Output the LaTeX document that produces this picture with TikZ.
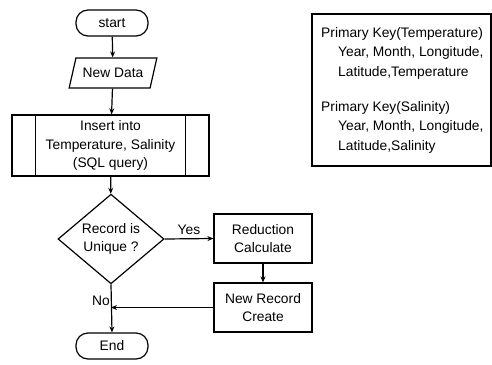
\documentclass[tikz,border=0pt]{standalone}
\usepackage{fontspec}
\setmainfont{Liberation Sans}
\usetikzlibrary{shapes.geometric,arrows.meta}
\begin{document}
\begin{tikzpicture}[x=1pt,y=-1pt,
  every node/.style={font=\fontsize{13.8}{18.5}\selectfont, align=center, inner sep=0pt},
  box/.style={draw, line width=1.2pt},
  term/.style={box, rounded corners=12pt, minimum width=72pt, minimum height=26pt},
  proc/.style={box, minimum width=98pt, minimum height=49pt},
  conn/.style={line width=1.2pt, -{Stealth[length=6pt,width=5pt]}},
  plain/.style={line width=1.2pt}]
\useasboundingbox (0,0) rectangle (492,364);
\node[term] (start) at (112,23) {start};
\node[box, trapezium, trapezium left angle=60, trapezium right angle=120,
      trapezium stretches=true, minimum width=88pt, minimum height=30pt] (data) at (113,73) {New Data};
\node[box, minimum width=197pt, minimum height=61pt] (insert) at (110.5,145.5)
  {Insert into\\Temperature, Salinity\\(SQL query)};
\draw[plain] ([xshift=24pt]insert.north west) -- ([xshift=24pt]insert.south west);
\draw[plain] ([xshift=-24pt]insert.north east) -- ([xshift=-24pt]insert.south east);
\node[box, diamond, minimum width=106pt, minimum height=84pt] (dec) at (111,239) {Record is\\Unique ?};
\node[proc] (red) at (263,238.5) {Reduction\\Calculate};
\node[proc] (rec) at (263,307.5) {New Record\\Create};
\node[term] (end) at (112,346) {End};
\node[box, minimum width=179pt, minimum height=152pt] (key) at (401.5,90) {};
\node[anchor=north west, align=left, font=\fontsize{13.8}{19.5}\selectfont] (keytext) at (321,27)
  {Primary Key(Temperature)\\
   \hspace*{17pt}Year, Month, Longitude,\\
   \hspace*{17pt}Latitude,Temperature\\[15.5pt]
   Primary Key(Salinity)\\
   \hspace*{17pt}Year, Month, Longitude,\\
   \hspace*{17pt}Latitude,Salinity};
\draw[conn] (start) -- (data);
\draw[conn] (data) -- (insert);
\draw[conn] (insert) -- (dec);
\draw[conn] (dec.east) -- node[above=4pt, pos=0.5] (yes) {Yes} (red.west);
\draw[conn] (red) -- (rec);
\draw[conn] (dec.south) -- node[left=1pt, pos=0.35] (no) {No} (end.north);
\coordinate (join) at (dec.south |- rec.west);
\draw[conn] (rec.west) -- (join);
\end{tikzpicture}
\end{document}
